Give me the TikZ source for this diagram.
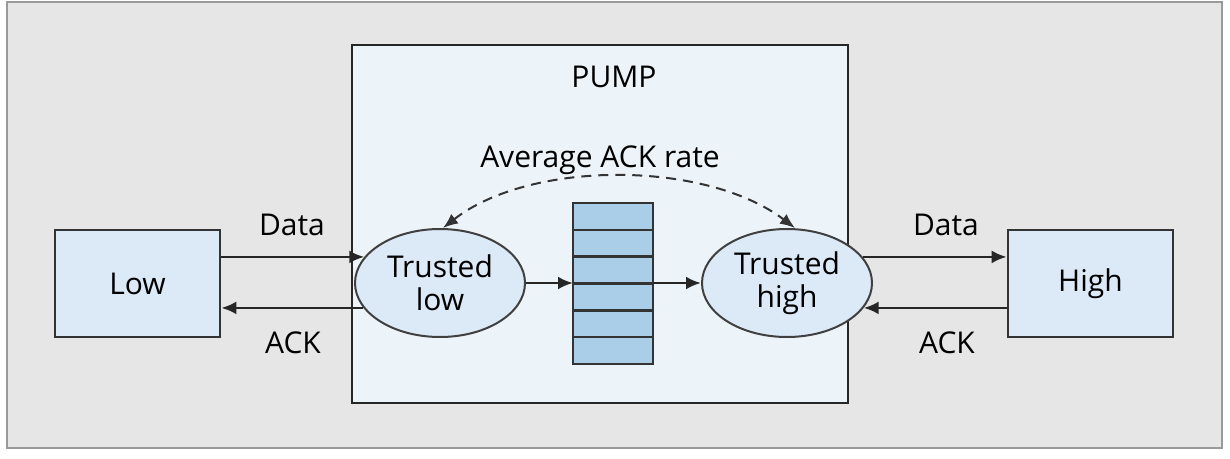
\documentclass[tikz,border=0pt]{standalone}
\usepackage{fontspec}
\setmainfont{Open Sans}
\usetikzlibrary{arrows.meta,positioning,shapes.geometric}
\definecolor{panelgray}{RGB}{230,230,230}
\definecolor{pumpfill}{RGB}{237,244,249}
\definecolor{hostfill}{RGB}{220,233,246}
\definecolor{queuefill}{RGB}{170,206,232}
\tikzset{
  hostbox/.style={draw=black!80, line width=2.6pt, fill=hostfill, minimum width=165pt, minimum height=107pt, inner sep=0pt, font=\fontsize{30}{34}\selectfont},
  trusted/.style={ellipse, draw=black!75, line width=2pt, fill=hostfill, minimum width=170pt, minimum height=108pt, inner sep=0pt, align=center, font=\fontsize{30}{33}\selectfont},
  qcell/.style={draw=black!80, line width=2.6pt, fill=queuefill, minimum width=80pt, minimum height=26.8pt, inner sep=0pt, outer sep=0pt},
  flow/.style={-{Latex[length=15pt,width=13pt]}, line width=2.8pt, black!85},
  ackdash/.style={{Latex[length=15pt,width=12pt]}-{Latex[length=15pt,width=12pt]}, dash pattern=on 10pt off 7pt, line width=2pt, black!80},
  lbl/.style={font=\fontsize{30}{34}\selectfont, inner sep=0pt},
}
\begin{document}
\begin{tikzpicture}[x=1pt,y=-1pt]
  \useasboundingbox (0,0) rectangle (1230,458);
  % grey panel behind everything
  \draw[black!40, line width=2pt, fill=panelgray] (7,2) rectangle (1222,448);
  % the pump
  \node[draw=black!85, line width=2.8pt, fill=pumpfill, minimum width=496pt, minimum height=358pt, inner sep=0pt] (pump) at (600,224) {};
  \node[lbl, anchor=base] (pumptitle) at (614,87) {PUMP};
  % hosts
  \node[hostbox] (low) at (137.5,283.5) {Low};
  \node[hostbox] (high) at (1090.5,283.5) {High};
  % trusted processes
  \node[trusted] (tl) at (440,283) {Trusted\\low};
  \node[trusted] (th) at (787,283) {Trusted\\high};
  % buffer, six slots
  \foreach \i in {1,...,6}
    \node[qcell] (q\i) at (613,{203+26.8*(\i-0.5)}) {};
  \coordinate (qw) at (q1.north west |- tl.center);
  \coordinate (qe) at (q1.north east |- th.center);
  % flows
  \draw[flow] (low.east |- tl.161) -- (tl.161);
  \draw[flow] (tl.198) -- (low.east |- tl.198);
  \draw[flow] (th.19) -- (high.west |- th.19);
  \draw[flow] (high.west |- th.-18) -- (th.-18);
  \draw[flow] (tl.east) -- (qw);
  \draw[flow] (qe) -- (th.west);
  \node[lbl, anchor=base] (datal) at (292,235) {Data};
  \node[lbl, anchor=base] (ackl) at (293,353) {ACK};
  \node[lbl, anchor=base] (datar) at (946,235) {Data};
  \node[lbl, anchor=base] (ackr) at (947,353) {ACK};
  % ack rate feedback
  \node[lbl, anchor=base] (rate) at (600,167) {Average ACK rate};
  \draw[ackdash] ([xshift=3pt]tl.north) .. controls (530,160) and (705,160) .. ([xshift=8pt]th.north);
\end{tikzpicture}
\end{document}
